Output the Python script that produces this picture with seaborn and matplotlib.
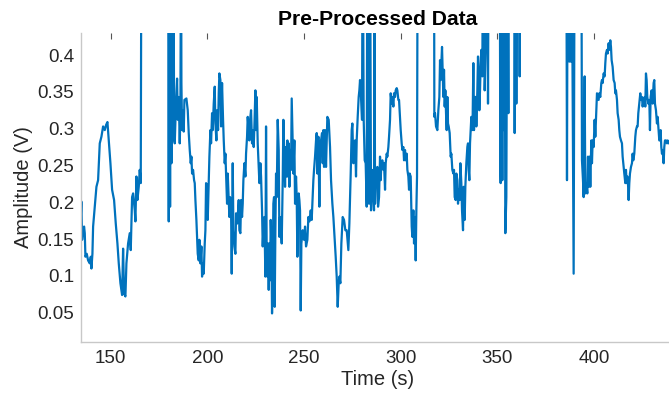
import numpy as np
import pandas as pd
import matplotlib
matplotlib.use("Agg")
import matplotlib.pyplot as plt
import seaborn as sns

# Values above the visible range (clipped at the top of the axes)
OFF = 0.6

time_s = [
    134.58, 134.92, 135.27, 135.79, 136.30, 136.65, 136.99, 137.68, 138.37, 139.23,
    139.75, 140.09, 140.61, 140.96, 141.82, 142.68, 143.54, 144.40, 145.26, 146.13,
    146.99, 147.68, 148.37, 149.06, 149.92, 150.78, 151.81, 152.68, 153.54, 154.23,
    155.09, 155.95, 156.47, 156.98, 157.67, 158.19, 159.05, 159.91, 160.43, 161.12,
    161.64, 162.50, 162.84, 163.36, 163.88, 164.57, 165.08, 165.60, 165.95,
    179.73, 180.08, 180.42, 180.77, 181.11, 181.46, 181.80, 182.15, 182.49, 182.84,
    183.18, 183.87, 184.39, 184.73, 185.25, 185.77, 186.11, 186.45, 186.63, 186.97,
    187.49, 187.83, 188.18, 189.21, 189.90, 190.42, 190.94, 191.45, 191.80, 192.14,
    192.66, 193.18, 193.52, 193.87, 194.38, 194.73, 195.07, 195.59, 195.93, 196.45,
    196.97, 197.31, 197.83, 198.17, 198.69, 199.04, 199.38, 199.90, 200.24, 200.76,
    201.10, 201.62, 201.97, 202.48, 202.83, 203.34, 203.86, 204.21, 204.72, 205.07,
    205.59, 205.93, 206.27, 206.79, 207.14, 207.65, 208.17, 208.52, 209.03, 209.38,
    209.72, 210.24, 210.58, 211.10, 211.44, 211.79, 212.31, 212.65, 213.17, 213.51,
    214.03, 214.55, 214.89, 215.41, 215.75, 216.27, 216.61, 217.13, 217.48, 217.99,
    218.34, 218.68, 219.20, 219.72, 220.06, 220.58, 220.92, 221.44, 221.78, 222.13,
    222.65, 223.16, 223.51, 224.02, 224.37, 224.89, 225.23, 225.58, 226.09, 226.61,
    226.96, 227.47, 227.82, 228.33, 228.68, 229.02, 229.54, 230.06, 230.40, 230.75,
    231.09, 231.44, 231.78, 232.13, 232.47, 232.81, 233.16, 233.50, 233.85, 234.19,
    234.54, 234.88, 235.23, 235.57, 235.92, 236.43, 236.95, 237.30, 237.64, 238.16,
    238.50, 239.02, 239.36, 239.88, 240.23, 240.57, 241.09, 241.43, 241.78, 242.12,
    242.47, 242.98, 243.33, 243.67, 244.19, 244.53, 245.05, 245.40, 245.91, 246.26,
    246.60, 246.95, 247.29, 247.64, 247.98, 248.33, 248.67, 249.36, 249.70, 250.05,
    250.57, 251.08, 251.77, 252.29, 252.81, 253.50, 254.01, 254.53, 254.87, 255.22,
    255.74, 256.25, 256.60, 256.94, 257.46, 257.98, 258.32, 258.84, 259.36, 259.70,
    260.04, 260.39, 260.91, 261.42, 262.11, 262.80, 263.49, 264.01, 264.70, 265.22,
    265.73, 266.42, 266.94, 267.46, 267.97, 268.32, 268.83, 269.35, 270.04, 270.73,
    271.42, 272.11, 272.97, 273.49, 274.18, 274.69, 275.04, 275.56, 276.07, 276.42,
    276.93, 277.28, 277.80, 278.31, 278.66, 279.00, 279.52, 280.04, 280.38, 280.90,
    281.42, 281.93, 282.45, 282.79, 283.14, 283.66, 284.17, 284.69, 285.21, 285.73,
    286.24, 286.42, 286.77, 287.11, 287.63, 287.97, 288.32, 288.84, 289.35, 289.70,
    290.04, 290.56, 291.08, 291.42, 291.94, 292.28, 292.80, 293.14, 293.66, 294.01,
    294.52, 294.87, 295.38, 295.73, 296.25, 296.59, 297.11, 297.45, 297.97, 298.31,
    298.83, 299.18, 299.69, 300.04, 300.55, 300.90, 301.42, 301.76, 302.28, 302.63,
    303.14, 303.49, 304.00, 304.35, 304.69, 305.21, 305.73, 306.07, 306.59, 306.93,
    307.45, 307.79, 308.14, 308.48, 308.83,
    317.27, 317.44, 317.79, 318.31, 318.99, 319.51, 320.03, 320.38, 320.72, 321.06,
    321.41, 321.75, 322.10, 322.44, 322.79, 323.13, 323.48, 323.82, 324.17, 324.51,
    324.86, 325.37, 325.89, 326.23, 326.75, 327.27, 327.61, 327.96, 328.47, 328.82,
    329.34, 329.68, 330.03, 330.54, 330.89, 331.40, 331.75, 332.27, 332.61, 333.13,
    333.47, 333.99, 334.51, 334.85, 335.20, 335.54, 335.89, 336.23, 336.57, 336.92,
    337.26, 337.61, 337.95, 338.30, 338.81, 339.16, 339.68, 340.02, 340.37, 340.71,
    341.06, 341.40, 341.75, 342.26, 342.61, 343.12, 343.47, 343.99, 344.85, 345.19,
    345.54,
    351.22, 351.57, 351.74, 352.09, 352.60, 352.95, 353.46, 353.81, 354.15, 354.67,
    355.19, 355.71, 356.05,
    358.64, 358.98, 359.50, 359.84, 360.36, 361.22, 361.57, 361.91,
    385.69, 386.04, 386.38, 387.24, 387.76, 388.10, 388.45, 389.48, 390.00,
    393.45, 393.79, 394.31, 394.66, 395.17, 395.52, 396.03, 396.55, 396.90, 397.24,
    397.76, 398.10, 398.62, 398.96, 399.31, 399.83, 400.34, 400.69, 401.03, 401.55,
    402.41, 402.75, 403.27, 403.79, 404.13, 404.48, 404.99, 405.51, 405.86, 406.20,
    406.72, 407.06, 407.58, 407.92, 408.44, 408.79, 409.13, 409.65, 410.16, 410.68,
    411.03, 411.37, 411.89, 412.23, 412.75, 413.09, 413.44, 413.96, 414.47, 414.82,
    415.33, 415.68, 416.20, 416.54, 416.89, 417.23, 417.58, 417.92, 418.27, 418.61,
    419.13, 419.64, 419.99, 420.33, 420.85, 421.37, 421.71, 422.23, 422.57, 422.92,
    423.44, 423.95, 424.30, 424.81, 425.16, 425.68, 426.19, 426.54, 426.88, 427.23,
    427.57, 428.09, 428.61, 428.95, 429.30, 429.81, 430.33, 430.85, 431.19, 431.54,
    432.05, 432.57, 432.92, 433.43, 433.78, 434.12, 434.47, 434.81, 435.16, 435.50,
    436.02, 436.36, 436.71, 437.22, 437.74, 438.09, 438.60, 439.20, 440.00, 441.00,
    442.00,
]

amplitude_v = [
    0.180, 0.201, 0.149, 0.162, 0.167, 0.158, 0.126, 0.130, 0.121, 0.117,
    0.126, 0.110, 0.130, 0.167, 0.194, 0.221, 0.230, 0.280, 0.289, 0.303,
    0.298, 0.305, 0.309, 0.284, 0.253, 0.217, 0.203, 0.171, 0.144, 0.117,
    0.090, 0.074, 0.137, 0.076, 0.072, 0.117, 0.144, 0.158, 0.135, 0.207,
    0.212, 0.189, 0.174, 0.235, 0.203, 0.221, 0.244, 0.226, OFF,
    OFF, 0.174, OFF, 0.194, OFF, 0.253, OFF, 0.284, OFF, 0.307,
    0.280, 0.339, 0.368, 0.312, 0.343, 0.280, 0.321, OFF, 0.362, 0.298,
    0.325, 0.296, 0.339, 0.341, 0.325, 0.294, 0.271, 0.253, 0.262, 0.239,
    0.244, 0.230, 0.226, 0.203, 0.176, 0.153, 0.130, 0.121, 0.149, 0.117,
    0.140, 0.099, 0.117, 0.103, 0.144, 0.162, 0.226, 0.223, 0.176, 0.230,
    0.262, 0.298, 0.280, 0.321, 0.298, 0.334, 0.357, 0.307, 0.284, 0.325,
    0.298, 0.348, 0.375, 0.366, 0.303, 0.362, 0.312, 0.284, 0.253, 0.266,
    0.239, 0.198, 0.239, 0.203, 0.180, 0.207, 0.189, 0.103, 0.253, 0.162,
    0.140, 0.130, 0.185, 0.171, 0.180, 0.203, 0.162, 0.158, 0.203, 0.180,
    0.198, 0.230, 0.253, 0.235, 0.266, 0.289, 0.316, 0.298, 0.284, 0.312,
    0.325, 0.280, 0.298, 0.275, 0.303, 0.352, 0.298, 0.343, 0.280, 0.248,
    0.226, 0.253, 0.235, 0.189, 0.140, 0.162, 0.180, 0.099, 0.303, 0.117,
    0.099, 0.144, 0.081, 0.144, 0.094, 0.176, 0.144, 0.049, 0.117, 0.198,
    0.207, 0.058, 0.162, 0.239, 0.207, 0.312, 0.271, 0.153, 0.180, 0.162,
    0.144, 0.230, 0.312, 0.262, 0.221, 0.275, 0.235, 0.284, 0.235, 0.280,
    0.221, 0.271, 0.244, 0.341, 0.280, 0.239, 0.284, 0.198, 0.235, 0.207,
    0.126, 0.180, 0.212, 0.203, 0.189, 0.053, 0.144, 0.162, 0.153, 0.149,
    0.167, 0.140, 0.149, 0.180, 0.174, 0.189, 0.176, 0.207, 0.230, 0.244,
    0.262, 0.284, 0.294, 0.239, 0.289, 0.194, 0.262, 0.284, 0.294, 0.253,
    0.298, 0.248, 0.298, 0.248, 0.316, 0.312, 0.275, 0.230, 0.198, 0.180,
    0.158, 0.126, 0.099, 0.058, 0.090, 0.099, 0.090, 0.144, 0.180, 0.176,
    0.162, 0.162, 0.135, 0.171, 0.239, 0.298, 0.307, 0.253, 0.262, 0.284,
    0.235, 0.284, 0.316, 0.343, 0.352, 0.366, 0.343, 0.312, OFF, 0.312,
    0.257, 0.253, 0.194, OFF, 0.244, 0.198, OFF, 0.189, 0.244, 0.221,
    0.189, OFF, 0.198, 0.239, 0.226, 0.248, 0.194, 0.207, 0.262, 0.230,
    0.253, 0.257, 0.244, 0.253, 0.217, 0.253, 0.266, 0.262, 0.275, 0.289,
    0.312, 0.348, 0.334, 0.343, 0.330, 0.348, 0.343, 0.352, 0.355, 0.352,
    0.339, 0.339, 0.316, 0.298, 0.280, 0.271, 0.275, 0.257, 0.271, 0.257,
    0.266, 0.244, 0.235, 0.217, 0.239, 0.235, 0.167, 0.153, 0.189, 0.144,
    0.180, 0.121, 0.189, 0.235, OFF,
    OFF, 0.316, 0.321, 0.303, 0.298, 0.325, 0.343, 0.393, 0.366, 0.389,
    0.411, 0.375, 0.343, 0.380, 0.330, 0.352, 0.321, 0.298, 0.343, 0.307,
    0.303, 0.294, 0.262, 0.266, 0.244, 0.239, 0.244, 0.207, 0.203, 0.239,
    0.230, 0.198, 0.217, 0.203, 0.253, 0.226, 0.189, 0.162, 0.221, 0.176,
    0.221, 0.253, 0.275, 0.280, 0.244, 0.230, 0.280, 0.298, 0.316, 0.298,
    0.316, 0.389, 0.298, 0.343, 0.343, 0.303, 0.352, 0.398, 0.371, 0.325,
    0.352, 0.389, 0.407, 0.371, OFF, OFF, 0.352, 0.407, OFF, 0.334,
    OFF,
    OFF, 0.253, 0.226, OFF, 0.230, OFF, 0.298, OFF, 0.158, 0.207,
    OFF, 0.321, OFF,
    OFF, 0.294, OFF, 0.334, OFF, OFF, 0.371, OFF,
    OFF, 0.230, OFF, 0.391, OFF, 0.391, OFF, 0.103, OFF,
    OFF, 0.257, 0.230, 0.207, 0.371, 0.212, 0.226, 0.212, 0.262, 0.221,
    0.262, 0.221, 0.284, 0.253, 0.284, 0.275, 0.312, 0.289, 0.312, 0.348,
    0.339, 0.348, 0.343, 0.362, 0.366, 0.362, 0.375, 0.371, 0.389, 0.402,
    0.407, 0.402, 0.416, 0.407, 0.420, 0.411, 0.393, 0.384, 0.366, 0.362,
    0.348, 0.352, 0.339, 0.321, 0.312, 0.298, 0.289, 0.284, 0.280, 0.262,
    0.248, 0.239, 0.226, 0.244, 0.226, 0.235, 0.226, 0.203, 0.226, 0.239,
    0.248, 0.253, 0.266, 0.257, 0.266, 0.289, 0.298, 0.303, 0.303, 0.321,
    0.334, 0.348, 0.339, 0.343, 0.330, 0.339, 0.343, 0.330, 0.375, 0.366,
    0.343, 0.334, 0.339, 0.298, 0.343, 0.352, 0.334, 0.362, 0.366, 0.334,
    0.325, 0.307, 0.316, 0.298, 0.284, 0.284, 0.298, 0.275, 0.266, 0.271,
    0.253, 0.275, 0.284, 0.284, 0.280, 0.284, 0.280, 0.282, 0.279, 0.283,
    0.281,
]

x_ticks = [150, 200, 250, 300, 350, 400]
y_ticks = [0.05, 0.10, 0.15, 0.20, 0.25, 0.30, 0.35, 0.40]
y_tick_labels = ["0.05", "0.1", "0.15", "0.2", "0.25", "0.3", "0.35", "0.4"]

df = pd.DataFrame({"Time (s)": time_s, "Amplitude (V)": amplitude_v})

sns.set_style("white")
plt.rcParams["font.family"] = ["Liberation Sans", "DejaVu Sans"]

W, H = 669, 393
fig = plt.figure(figsize=(W / 100, H / 100), dpi=100)
ax = fig.add_axes([81 / W, 1 - 341.7 / H, (675 - 81) / W, (341.7 - 33.3) / H])

sns.lineplot(data=df, x="Time (s)", y="Amplitude (V)", ax=ax,
             color="#0072BD", linewidth=1.6, estimator=None)

ax.set_xlim(134.7, 441.9)
ax.set_ylim(0.0106, 0.4295)
ax.set_xticks(x_ticks)
ax.set_xticklabels([str(t) for t in x_ticks])
ax.set_yticks(y_ticks)
ax.set_yticklabels(y_tick_labels)

for side in ["top", "right"]:
    ax.spines[side].set_visible(False)
for side in ["left", "bottom"]:
    ax.spines[side].set_color("#c8c8c8")
    ax.spines[side].set_linewidth(1.0)

ax.tick_params(axis="both", direction="in", length=4, width=0.8,
               color="#555555", labelcolor="#262626", labelsize=13.5)
ax.tick_params(axis="x", top=True, pad=6)
ax.tick_params(axis="y", pad=5)

ax.set_xlabel("Time (s)", fontsize=14.5, color="#262626", labelpad=2)
ax.set_ylabel("Amplitude (V)", fontsize=14.5, color="#262626", labelpad=3)
ax.set_title("Pre-Processed Data", fontsize=15.2, fontweight="bold",
             color="#000000", pad=6)

fig.savefig("out.png", dpi=100)
